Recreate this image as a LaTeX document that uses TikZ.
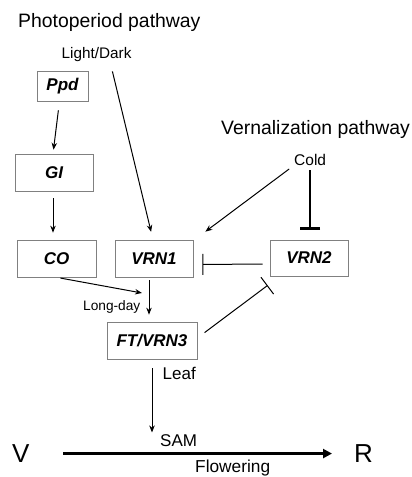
\documentclass[tikz,border=0pt]{standalone}
\usepackage{fontspec}
\setmainfont{Liberation Sans}
\usetikzlibrary{arrows.meta}

\tikzset{
  gene/.style={draw=gray, line width=0.7pt, font=\fontsize{17}{20}\selectfont\bfseries\itshape,
    minimum width=78pt, minimum height=37pt, inner sep=0pt},
  lbl/.style={anchor=base west, inner sep=0pt},
  act/.style={-{Stealth[length=7pt,width=5.5pt]}, line width=1pt},
  inh/.style={-{Bar[width=21pt]}, line width=1pt},
}

\begin{document}
\begin{tikzpicture}[x=1pt,y=-1pt]
\useasboundingbox (0,0) rectangle (412,477);
% pathway titles
\node[lbl, font=\fontsize{19.4}{22}\selectfont] at (18,27.5) (photo) {Photoperiod pathway};
\node[lbl, font=\fontsize{19.4}{22}\selectfont] at (221,134) (vern) {Vernalization pathway};
\node[lbl, font=\fontsize{15.3}{18}\selectfont] at (61.5,58.3) (light) {Light/Dark};
\node[lbl, font=\fontsize{15.5}{18}\selectfont] at (294,165) (cold) {Cold};
% genes
\node[gene, minimum width=51pt, minimum height=30pt] at (62.5,86) (Ppd) {Ppd};
\node[gene] at (54,172.5) (GI) {GI};
\node[gene, minimum width=79pt] at (56.5,258.5) (CO) {CO};
\node[gene] at (154,258.5) (VRN1) {VRN1};
\node[gene, minimum height=36pt] at (309,258) (VRN2) {VRN2};
\node[gene, minimum width=90pt] at (152,340.5) (FT) {FT/VRN3};
% small labels
\node[lbl, font=\fontsize{13.7}{16}\selectfont] at (83,310) (longday) {Long-day};
\node[lbl, font=\fontsize{17}{20}\selectfont] at (162.5,379) (leaf) {Leaf};
\node[lbl, font=\fontsize{17}{20}\selectfont] at (160,446.5) (sam) {SAM};
\node[lbl, font=\fontsize{26}{30}\selectfont] at (12,462.5) (V) {V};
\node[lbl, font=\fontsize{26}{30}\selectfont] at (354,462.5) (R) {R};
\node[lbl, font=\fontsize{17.3}{20}\selectfont] at (195,472) (flower) {Flowering};
\coordinate (ld) at (142,293);

% photoperiod
\draw[act, shorten <=9pt, shorten >=4pt] ([xshift=-3pt]Ppd.south) -- ([xshift=-1pt]GI.north);
\draw[act, shorten <=7pt, shorten >=7pt] ([xshift=-1pt]GI.south) -- ([xshift=-3.5pt]CO.north);
\draw[act, shorten <=10pt, shorten >=8pt] ([xshift=13.5pt]light.south) -- ([xshift=-1pt]VRN1.north);
\draw[act, shorten <=4pt] (CO.south) -- (ld);
\draw[act, shorten <=3pt, shorten >=7pt] ([xshift=-5pt]VRN1.south) -- ([xshift=-3pt]FT.north);
% vernalization
\draw[act, shorten <=6pt] (cold.south west) -- ([xshift=12pt,yshift=8pt]VRN1.north east);
\draw[inh, line width=2.4pt, -{Bar[width=20pt]}, shorten <=5pt, shorten >=10pt] (cold.south) -- (cold.south |- VRN2.north);
\draw[inh, shorten <=7pt, shorten >=9pt] ([yshift=-6pt]VRN2.west) -- ([yshift=-6pt]VRN1.east);
\draw[inh, shorten <=9pt] ([yshift=2.5pt]FT.east) -- ([xshift=-2pt,yshift=-9pt]VRN2.south west);
% to the shoot apex
\draw[act, shorten <=9pt, shorten >=2pt] (FT.south) -- (FT.south |- sam.north);
\draw[-{Triangle[length=9pt,width=9pt]}, line width=2.8pt, shorten <=33.7pt, shorten >=22pt] (V.east) -- (R.west);
\end{tikzpicture}
\end{document}
